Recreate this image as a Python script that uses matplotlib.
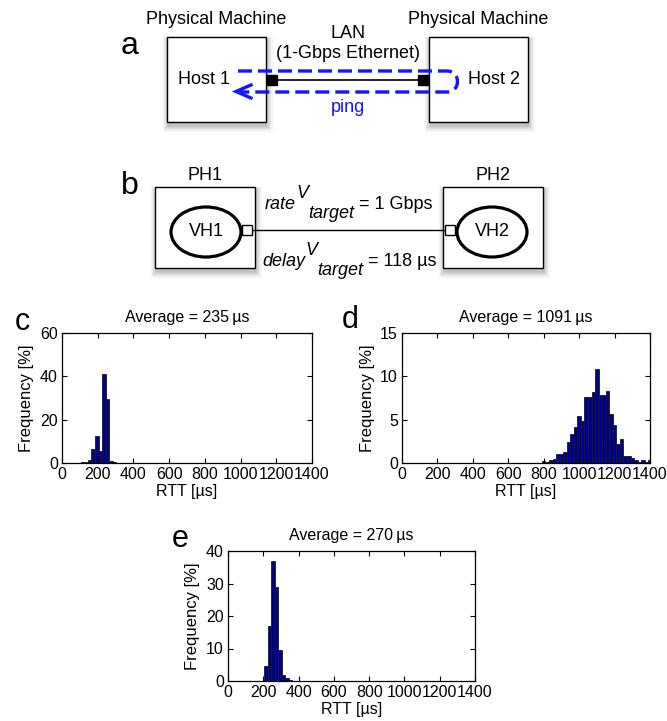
import numpy as np
import matplotlib
matplotlib.use("Agg")
import matplotlib.pyplot as plt
from matplotlib.patches import Rectangle, Ellipse, PathPatch
from matplotlib.path import Path

plt.rcParams['font.family'] = ['Liberation Sans', 'DejaVu Sans']

W, H = 667, 721
BIN = 20  # histogram bin width in microseconds

# RTT histograms (frequency in % per 20 us bin, first bin's left edge)
c_start = 105
c_freq = [0.5, 0.5, 1.4, 6.5, 12.3, 5.4, 41.2, 29.4, 1.1, 0.6, 0.1, 0.0, 0.0, 0.0, 0.2]
d_start = 790
d_freq = [0.2, 0.1, 0.3, 0.5, 1.0, 1.0, 1.3, 2.4, 3.3, 4.1, 5.4, 4.8, 7.6, 7.6, 8.2,
          10.8, 7.9, 7.9, 8.3, 5.6, 4.4, 2.2, 2.8, 0.8, 0.8, 0.6, 0.4, 0.15, 0.4, 0.1, 0.4]
e_start = 205
e_freq = [4.7, 16.9, 36.9, 28.8, 9.5, 2.0, 1.0, 0.3]

averages = [235, 1091, 270]
x_ticks = [0, 200, 400, 600, 800, 1000, 1200, 1400]
c_yticks = [0, 20, 40, 60]
d_yticks = [0, 5, 10, 15]
e_yticks = [0, 10, 20, 30, 40]

BAR_COLOR = '#00008f'

fig = plt.figure(figsize=(W / 100, H / 100), dpi=100)
ov = fig.add_axes([0, 0, 1, 1])
ov.set_xlim(0, W)
ov.set_ylim(H, 0)
ov.axis('off')

DFS = 13  # diagram font size


def shadow_box(x0, y0, w, h):
    for k in range(6):
        pad = k * 1.1
        ov.add_patch(Rectangle((x0 + 1 - pad, y0 + 4 - pad), w + 2 * pad, h + 2 * pad,
                               facecolor='k', alpha=0.045, lw=0))
    ov.add_patch(Rectangle((x0, y0), w, h, facecolor='white', edgecolor='black', lw=1.0))


# ---- panel a: two physical hosts on a LAN ----
ov.text(130, 46, 'a', fontsize=23, ha='center', va='center')
shadow_box(167, 37, 99, 85)
shadow_box(429, 37, 99, 85)
ov.text(216, 19, 'Physical Machine', fontsize=DFS, ha='center', va='center')
ov.text(478, 19, 'Physical Machine', fontsize=DFS, ha='center', va='center')
ov.text(348, 33, 'LAN', fontsize=DFS, ha='center', va='center')
ov.text(348, 53, '(1-Gbps Ethernet)', fontsize=DFS, ha='center', va='center')
ov.text(204, 80, 'Host 1', fontsize=DFS, ha='center', va='center')
ov.text(494, 80, 'Host 2', fontsize=DFS, ha='center', va='center')
ov.plot([277, 418], [80, 80], color='black', lw=1.2, zorder=3)
ov.add_patch(Rectangle((267, 75), 10, 10, facecolor='black', edgecolor='black', zorder=4))
ov.add_patch(Rectangle((418, 75), 10, 10, facecolor='black', edgecolor='black', zorder=4))

loop = Path([(238, 71), (447, 71), (461, 71), (461, 92), (447, 92), (240, 92)],
            [Path.MOVETO, Path.LINETO, Path.CURVE4, Path.CURVE4, Path.CURVE4, Path.LINETO])
ov.add_patch(PathPatch(loop, facecolor='none', edgecolor='#1414ff', lw=2.4,
                       linestyle=(0, (4.2, 1.8)), zorder=5))
ov.plot([251, 236, 251], [85, 91.5, 98], color='#1414ff', lw=2.4, zorder=5,
        solid_joinstyle='miter')
ov.text(348, 107, 'ping', fontsize=DFS, color='#1414ff', ha='center', va='center')

# ---- panel b: virtual hosts with target link parameters ----
ov.text(130, 186, 'b', fontsize=23, ha='center', va='center')
shadow_box(155, 187, 100, 81)
shadow_box(443, 187, 100, 81)
ov.text(205, 176, 'PH1', fontsize=DFS, ha='center', va='center')
ov.text(493, 176, 'PH2', fontsize=DFS, ha='center', va='center')
for cx, lab in [(206, 'VH1'), (492, 'VH2')]:
    ov.add_patch(Ellipse((cx, 232), 70, 50, facecolor='white', edgecolor='black', lw=2.3, zorder=3))
    ov.text(cx, 232, lab, fontsize=DFS, ha='center', va='center', zorder=4)
ov.plot([252, 445], [230, 230], color='black', lw=1.0, zorder=3)
ov.add_patch(Rectangle((242, 225), 10, 10, facecolor='white', edgecolor='black', lw=1.0, zorder=4))
ov.add_patch(Rectangle((445, 225), 10, 10, facecolor='white', edgecolor='black', lw=1.0, zorder=4))

renderer = fig.canvas.get_renderer()


def seq_text(x, y, parts):
    for s, dy, style in parts:
        t = ov.text(x, y + dy, s, fontsize=DFS, style=style, ha='left', va='baseline')
        bb = t.get_window_extent(renderer=renderer)
        x += bb.width


seq_text(265, 209, [('rate', 0, 'italic'), ('V', -11, 'italic'),
                    ('target', 9, 'italic'), (' = 1 Gbps', 0, 'normal')])
seq_text(262, 266, [('delay', 0, 'italic'), ('V', -11, 'italic'),
                    ('target', 9, 'italic'), (' = 118 \u00b5s', 0, 'normal')])

# ---- panels c, d, e: RTT histograms ----
PFS = 11.5


def hist_panel(x0, x1, y0, y1, start, freq, yticks, avg, letter, lpos):
    ax = fig.add_axes([x0 / W, 1 - y1 / H, (x1 - x0) / W, (y1 - y0) / H])
    edges = start + BIN * np.arange(len(freq))
    ax.bar(edges, freq, width=BIN, align='edge', color=BAR_COLOR,
           edgecolor='#1a1a1a', lw=0.6)
    ax.set_xlim(0, 1400)
    ax.set_ylim(yticks[0], yticks[-1])
    ax.set_xticks(x_ticks)
    ax.set_yticks(yticks)
    ax.tick_params(direction='in', top=True, right=True, length=3.5, width=0.8,
                   labelsize=11.5, pad=3)
    for s in ax.spines.values():
        s.set_linewidth(0.9)
    ax.set_xlabel('RTT [\u00b5s]', fontsize=PFS, labelpad=1)
    ax.set_ylabel('Frequency [%]', fontsize=12, labelpad=4)
    ax.set_title(f'Average = {avg}\u2009\u00b5s', fontsize=PFS, pad=8)
    ov.text(lpos[0], lpos[1], letter, fontsize=22, ha='center', va='center')
    return ax


hist_panel(62, 312, 333, 463, c_start, c_freq, c_yticks, averages[0], 'c', (22, 322))
hist_panel(402, 650, 333, 463, d_start, d_freq, d_yticks, averages[1], 'd', (350, 320))
hist_panel(228, 475, 551, 681, e_start, e_freq, e_yticks, averages[2], 'e', (180, 539))

fig.savefig('out.png', dpi=100)
